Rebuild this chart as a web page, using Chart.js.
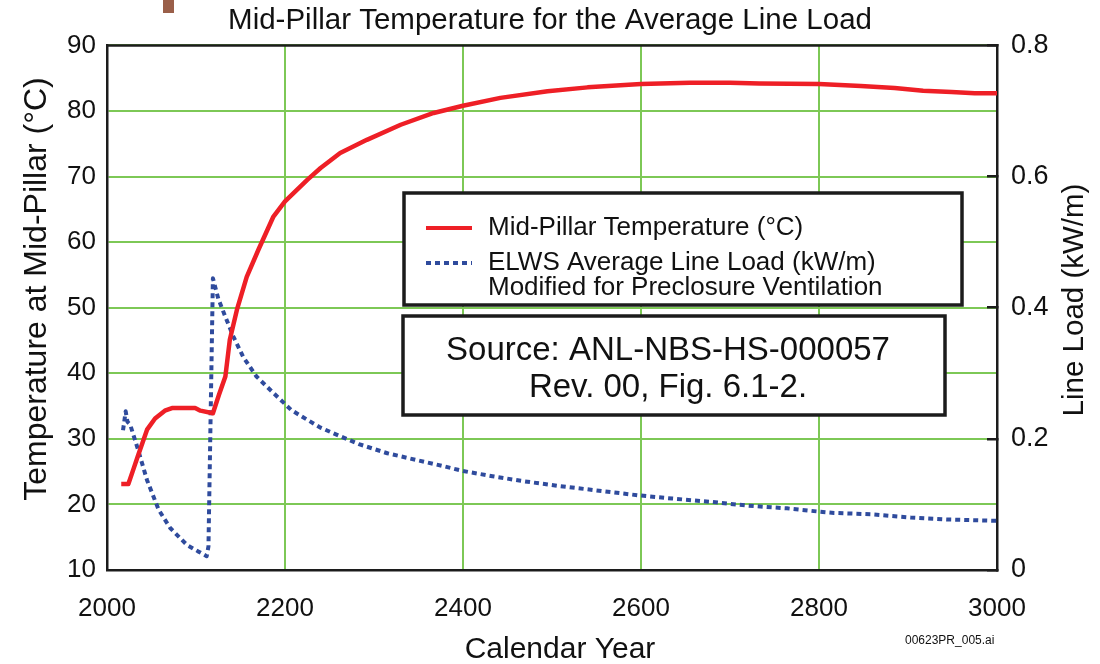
<!DOCTYPE html>
<html>
<head>
<meta charset="utf-8">
<script src="https://cdn.jsdelivr.net/npm/chart.js@4.4.1/dist/chart.umd.min.js"></script>
<style>
  html, body { margin: 0; padding: 0; background: #fff; }
</style>
</head>
<body>
<canvas id="myChart" width="1100" height="664"></canvas>
<script>
// mid-pillar temperature (deg C) by calendar year
const tempYears = [2016, 2024, 2030, 2035, 2045, 2054, 2065, 2073, 2099, 2105, 2119, 2126, 2133, 2138, 2146, 2157, 2170, 2187, 2200, 2225, 2240, 2262, 2292, 2330, 2367, 2400, 2442, 2495, 2540, 2600, 2655, 2700, 2733, 2800, 2847, 2885, 2917, 2949, 2975, 3000];
const tempValues = [23.1, 23.1, 25.5, 27.5, 31.4, 33.1, 34.3, 34.7, 34.7, 34.3, 33.9, 36.8, 39.5, 45.1, 49.7, 54.7, 58.8, 63.9, 66.2, 69.5, 71.3, 73.6, 75.6, 77.9, 79.7, 80.8, 82.0, 83.0, 83.6, 84.1, 84.3, 84.3, 84.2, 84.1, 83.8, 83.5, 83.1, 82.9, 82.7, 82.7];

// ELWS average line load (kW/m), modified for preclosure ventilation
const loadYears = [2018, 2021, 2023, 2026, 2035, 2045, 2058, 2071, 2090, 2103, 2112, 2114, 2119, 2121.5, 2125, 2133, 2142, 2153, 2168, 2187, 2207, 2219, 2240, 2262, 2283, 2315, 2347, 2379, 2400, 2433, 2465, 2508, 2540, 2596, 2635, 2678, 2721, 2764, 2800, 2817, 2858, 2903, 2944, 3000];
const loadValues = [0.213, 0.242, 0.226, 0.222, 0.183, 0.137, 0.092, 0.064, 0.038, 0.028, 0.021, 0.036, 0.445, 0.432, 0.414, 0.386, 0.356, 0.325, 0.295, 0.270, 0.244, 0.234, 0.217, 0.204, 0.192, 0.178, 0.168, 0.158, 0.151, 0.143, 0.136, 0.128, 0.123, 0.114, 0.109, 0.104, 0.098, 0.094, 0.089, 0.087, 0.085, 0.080, 0.077, 0.075];

const yearTicks = [2000, 3000, 200];
const tempTicks = [10, 90, 10];
const loadTicks = [0, 0.8, 0.2];

const FONT = "'Liberation Sans', Arial, Helvetica, sans-serif";
const RED = "#ee1f26";
const BLUE = "#2f4b9d";
const GRID = "#7dc856";
const INK = "#1c1c1c";

function toPoints(xs, ys) {
  return xs.map((x, i) => ({ x: x, y: ys[i] }));
}

// frame, legend box, source note and rotated axis titles
const extras = {
  id: "extras",
  afterDraw(chart) {
    const c = chart.ctx;
    const a = chart.chartArea;
    c.save();

    // top edge of the plot frame
    c.strokeStyle = INK;
    c.lineWidth = 2.5;
    c.beginPath();
    c.moveTo(a.left - 1, a.top);
    c.lineTo(a.right + 1, a.top);
    c.stroke();

    // small brown tab at the top
    c.fillStyle = "#9a5f49";
    c.fillRect(163, 0, 11, 13);

    c.fillStyle = "#111";
    c.textBaseline = "middle";

    // axis titles
    c.textAlign = "center";
    c.font = "30px " + FONT;
    c.fillText("Calendar Year", 560, 650);
    c.save();
    c.font = "32px " + FONT;
    c.translate(37, 289);
    c.rotate(-Math.PI / 2);
    c.fillText("Temperature at Mid-Pillar (°C)", 0, 0);
    c.restore();
    c.save();
    c.font = "29.5px " + FONT;
    c.translate(1075, 300);
    c.rotate(-Math.PI / 2);
    c.fillText("Line Load (kW/m)", 0, 0);
    c.restore();

    // legend box
    c.fillStyle = "#fff";
    c.fillRect(404, 193, 558, 112);
    c.strokeStyle = INK;
    c.lineWidth = 3.5;
    c.strokeRect(404, 193, 558, 112);

    const ds = chart.data.datasets;
    const rows = [228, 263];
    ds.forEach((d, i) => {
      c.strokeStyle = d.borderColor;
      c.lineWidth = 4;
      c.setLineDash(d.borderDash || []);
      c.beginPath();
      c.moveTo(426, rows[i]);
      c.lineTo(472, rows[i]);
      c.stroke();
      c.setLineDash([]);
      c.fillStyle = "#111";
      c.font = "26px " + FONT;
      c.textAlign = "left";
      d.label.split("\n").forEach((line, j) => {
        c.fillText(line, 488, rows[i] + j * 25);
      });
    });

    // source note
    c.fillStyle = "#fff";
    c.fillRect(403, 316, 542, 99);
    c.strokeStyle = INK;
    c.lineWidth = 3.5;
    c.strokeRect(403, 316, 542, 99);
    c.fillStyle = "#111";
    c.font = "33px " + FONT;
    c.textAlign = "center";
    c.fillText("Source: ANL-NBS-HS-000057", 668, 351);
    c.fillText("Rev. 00, Fig. 6.1-2.", 668, 388);

    // file tag
    c.font = "12px " + FONT;
    c.textAlign = "left";
    c.fillText("00623PR_005.ai", 905, 641);

    c.restore();
  }
};

const ctx = document.getElementById("myChart");
new Chart(ctx, {
  type: "line",
  data: {
    datasets: [
      {
        label: "Mid-Pillar Temperature (°C)",
        data: toPoints(tempYears, tempValues),
        yAxisID: "y",
        borderColor: RED,
        borderWidth: 4.5,
        borderJoinStyle: "round",
        pointRadius: 0,
        tension: 0,
      },
      {
        label: "ELWS Average Line Load (kW/m)\nModified for Preclosure Ventilation",
        data: toPoints(loadYears, loadValues),
        yAxisID: "y1",
        borderColor: BLUE,
        borderWidth: 4,
        borderDash: [5, 4],
        borderJoinStyle: "round",
        pointRadius: 0,
        tension: 0,
      },
    ],
  },
  options: {
    responsive: false,
    animation: false,
    devicePixelRatio: 1,
    layout: { padding: 0 },
    plugins: {
      legend: { display: false },
      tooltip: { enabled: false },
      title: {
        display: true,
        text: "Mid-Pillar Temperature for the Average Line Load",
        color: "#111",
        font: { family: FONT, size: 29.5, weight: "normal" },
        padding: { top: 3, bottom: 7 },
      },
    },
    scales: {
      x: {
        type: "linear",
        min: yearTicks[0],
        max: yearTicks[1],
        ticks: {
          stepSize: yearTicks[2],
          color: "#111",
          font: { family: FONT, size: 26 },
          padding: 23,
          maxRotation: 0,
          callback: (v) => String(v),
        },
        grid: { color: GRID, lineWidth: 2, drawTicks: false },
        border: { color: INK, width: 2.5 },
        afterFit(s) { s.height = 94; },
      },
      y: {
        position: "left",
        min: tempTicks[0],
        max: tempTicks[1],
        ticks: { stepSize: tempTicks[2], color: "#111", font: { family: FONT, size: 26 }, padding: 11 },
        grid: { color: GRID, lineWidth: 2, drawTicks: false },
        border: { color: INK, width: 2.5 },
        afterFit(s) { s.width = 107; },
      },
      y1: {
        position: "right",
        min: loadTicks[0],
        max: loadTicks[1],
        ticks: {
          stepSize: loadTicks[2],
          color: "#111",
          font: { family: FONT, size: 27 },
          padding: 24,
          callback: (v) => (v === 0 ? "0" : v.toFixed(1)),
        },
        grid: { drawOnChartArea: false, color: INK, tickColor: INK, lineWidth: 2.5, tickLength: -10 },
        border: { color: INK, width: 2.5 },
        afterFit(s) { s.width = 103; },
      },
    },
  },
  plugins: [extras],
});
</script>
</body>
</html>
